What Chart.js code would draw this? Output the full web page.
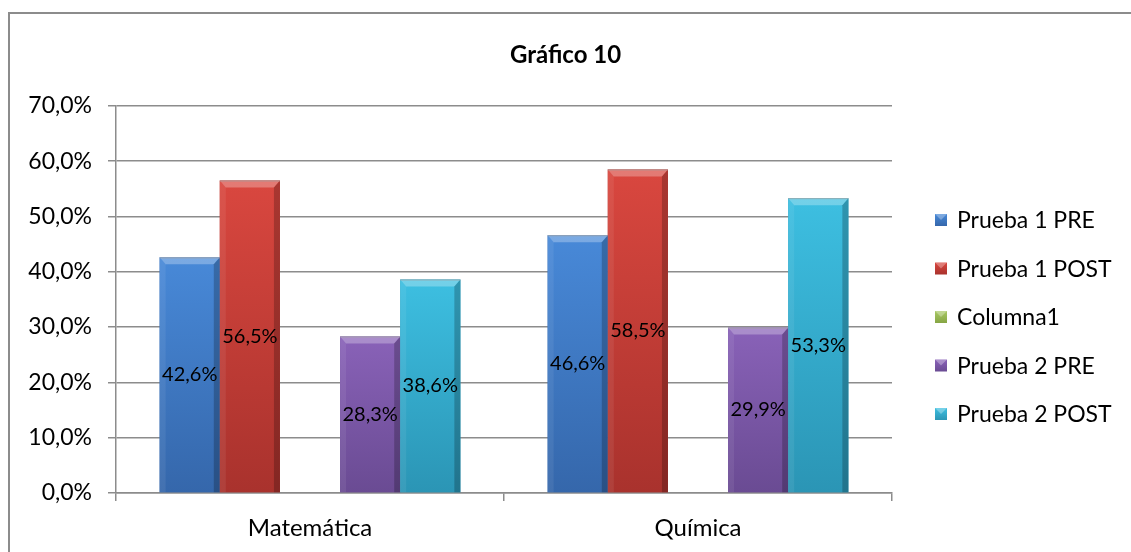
<!DOCTYPE html>
<html>
<head>
<meta charset="utf-8">
<script src="https://cdn.jsdelivr.net/npm/chart.js@4.4.0/dist/chart.umd.min.js"></script>
<style>
  body { margin: 0; background: #fff; overflow: hidden; }
  #wrap { position: absolute; left: 0; top: 0; width: 1131px; height: 552px; }
  #marco { position: absolute; left: 8px; top: 12px; width: 1140px; height: 560px; border: 2px solid #8c8c8c; box-sizing: border-box; pointer-events: none; }
</style>
</head>
<body>
<div id="wrap"><canvas id="grafico"></canvas></div>
<div id="marco"></div>
<script>
// Datos del gráfico
const categorias = ['Matemática', 'Química'];
const series = ['Prueba 1 PRE', 'Prueba 1 POST', 'Columna1', 'Prueba 2 PRE', 'Prueba 2 POST'];
const prueba1Pre = [42.6, 46.6];
const prueba1Post = [56.5, 58.5];
const columna1 = [null, null];
const prueba2Pre = [28.3, 29.9];
const prueba2Post = [38.6, 53.3];
const ejeY = { min: 0, max: 70, paso: 10 };

// Colores: [claro arriba, oscuro abajo]
const colores = [
    ['#4889d8', '#3567ab'],
    ['#d9473f', '#a9322d'],
    ['#a8c864', '#86a544'],
    ['#8962b8', '#6a4b93'],
    ['#3dbfe1', '#2b95b5']
];

const FUENTE = 'Lato, Calibri, sans-serif';

function formatoPct(v) {
    return v.toFixed(1).replace('.', ',') + '%';
}

// Barras con efecto biselado y etiqueta de valor centrada
const biselPlugin = {
    id: 'bisel',
    afterDatasetsDraw(chart) {
        const ctx = chart.ctx;
        chart.data.datasets.forEach((ds, i) => {
            const meta = chart.getDatasetMeta(i);
            if (meta.hidden) return;
            meta.data.forEach((el, j) => {
                if (ds.data[j] == null) return;
                const p = el.getProps(['x', 'y', 'base', 'width'], true);
                const l = p.x - p.width / 2, r = p.x + p.width / 2;
                const t = p.y, b = p.base;
                const d = 6;
                ctx.save();
                const g = ctx.createLinearGradient(0, t, 0, b);
                g.addColorStop(0, colores[i][0]);
                g.addColorStop(1, colores[i][1]);
                ctx.fillStyle = g;
                ctx.fillRect(l, t, r - l, b - t);
                // bisel superior
                ctx.fillStyle = 'rgba(255,255,255,0.28)';
                ctx.beginPath();
                ctx.moveTo(l, t); ctx.lineTo(r, t); ctx.lineTo(r - d, t + d + 1); ctx.lineTo(l + d, t + d + 1);
                ctx.closePath(); ctx.fill();
                // lado izquierdo
                ctx.fillStyle = 'rgba(255,255,255,0.07)';
                ctx.beginPath();
                ctx.moveTo(l, t); ctx.lineTo(l + d, t + d + 1); ctx.lineTo(l + d, b); ctx.lineTo(l, b);
                ctx.closePath(); ctx.fill();
                // lado derecho
                ctx.fillStyle = 'rgba(0,0,0,0.22)';
                ctx.beginPath();
                ctx.moveTo(r, t); ctx.lineTo(r - d, t + d + 1); ctx.lineTo(r - d, b); ctx.lineTo(r, b);
                ctx.closePath(); ctx.fill();
                // borde superior
                ctx.strokeStyle = 'rgba(160,160,160,0.7)';
                ctx.lineWidth = 1;
                ctx.beginPath(); ctx.moveTo(l, t + 0.5); ctx.lineTo(r, t + 0.5); ctx.stroke();
                ctx.restore();
            });
        });
        // etiquetas de valor
        ctx.save();
        ctx.font = '20px ' + FUENTE;
        ctx.fillStyle = '#000';
        ctx.textAlign = 'center';
        ctx.textBaseline = 'middle';
        chart.data.datasets.forEach((ds, i) => {
            const meta = chart.getDatasetMeta(i);
            meta.data.forEach((el, j) => {
                if (ds.data[j] == null) return;
                const p = el.getProps(['x', 'y', 'base'], true);
                ctx.fillText(formatoPct(ds.data[j]), p.x, (p.y + p.base) / 2);
            });
        });
        ctx.restore();
    }
};

// Leyenda a la derecha
const leyendaPlugin = {
    id: 'leyenda',
    afterDraw(chart) {
        const ctx = chart.ctx;
        const area = chart.chartArea;
        const x = area.right + 43;
        const paso = 48.5;
        const y0 = 220;
        ctx.save();
        ctx.font = '23px ' + FUENTE;
        ctx.textBaseline = 'middle';
        ctx.textAlign = 'left';
        series.forEach((s, i) => {
            const y = y0 + i * paso;
            const g = ctx.createLinearGradient(0, y - 6, 0, y + 6);
            g.addColorStop(0, colores[i][0]);
            g.addColorStop(1, colores[i][1]);
            ctx.fillStyle = g;
            ctx.fillRect(x, y - 6, 12, 12);
            ctx.fillStyle = 'rgba(255,255,255,0.3)';
            ctx.beginPath();
            ctx.moveTo(x, y - 6); ctx.lineTo(x + 12, y - 6); ctx.lineTo(x + 6, y); ctx.closePath(); ctx.fill();
            ctx.fillStyle = '#000';
            ctx.fillText(s, x + 22, y + 1);
        });
        ctx.restore();
    }
};

const datos = [prueba1Pre, prueba1Post, columna1, prueba2Pre, prueba2Post];

const ctx = document.getElementById('grafico').getContext('2d');
const grafico = new Chart(ctx, {
    type: 'bar',
    data: {
        labels: categorias,
        datasets: series.map((s, i) => ({
            label: s,
            data: datos[i],
            backgroundColor: colores[i][1],
            borderWidth: 0
        }))
    },
    options: {
        responsive: true,
        maintainAspectRatio: false,
        animation: false,
        layout: { padding: 0 },
        datasets: { bar: { categoryPercentage: 0.775, barPercentage: 1 } },
        plugins: {
            legend: { display: false },
            tooltip: { enabled: false },
            title: {
                display: true,
                text: 'Gráfico 10',
                color: '#000',
                font: { family: FUENTE, size: 24, weight: 'bold' },
                padding: { top: 41, bottom: 36 }
            }
        },
        scales: {
            x: {
                afterFit(s) { s.height = 59; },
                grid: { drawOnChartArea: false, offset: true, tickLength: 8, color: '#8c8c8c', lineWidth: 1.5 },
                border: { color: '#8c8c8c', width: 1.5 },
                ticks: { color: '#000', font: { family: FUENTE, size: 24 }, padding: 13 }
            },
            y: {
                min: ejeY.min,
                max: ejeY.max,
                afterFit(s) { s.width = 116; },
                grid: { color: '#8c8c8c', lineWidth: 1.5, tickLength: 8 },
                border: { color: '#8c8c8c', width: 1.5 },
                ticks: {
                    stepSize: ejeY.paso,
                    color: '#000',
                    font: { family: FUENTE, size: 23 },
                    padding: 16,
                    callback: v => formatoPct(v)
                }
            },
            // espacio reservado para la leyenda
            yLeyenda: {
                type: 'linear',
                position: 'right',
                afterFit(s) { s.width = 239; },
                grid: { display: false },
                border: { display: false },
                ticks: { display: false }
            }
        }
    },
    plugins: [biselPlugin, leyendaPlugin]
});
</script>
</body>
</html>
